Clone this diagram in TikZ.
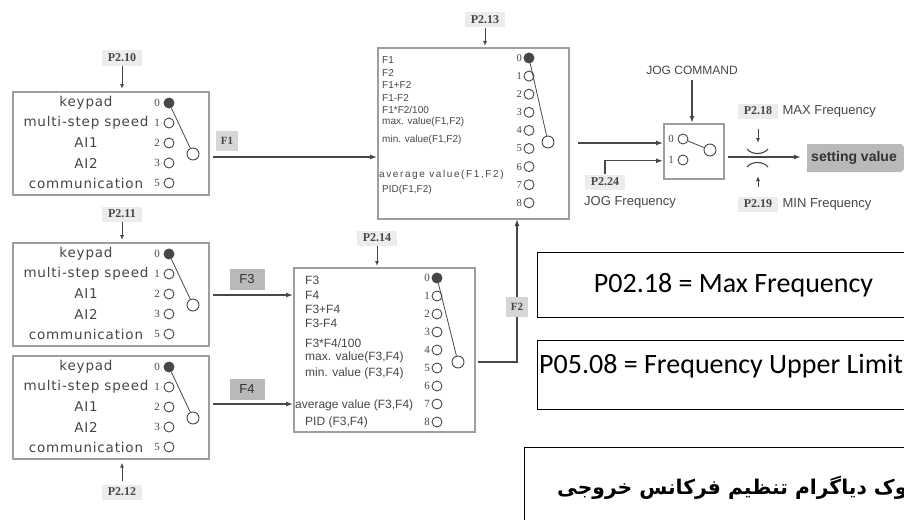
\documentclass[tikz,border=0pt]{standalone}
\usepackage{fontspec}
\setmainfont{Liberation Serif}
\setsansfont{Liberation Sans}
\newfontfamily\srcfont[LetterSpace=6]{DejaVu Sans}
\newfontfamily\notefont{Carlito}
\newfontfamily\farsifont[Script=Arabic]{DejaVu Sans}
\TeXXeTstate=1
\usetikzlibrary{arrows.meta, positioning, calc, shapes.symbols}

\definecolor{rim}{gray}{0.62}
\definecolor{ink}{gray}{0.28}

\tikzset{
  srcbox/.style={draw=rim, line width=1.6pt, inner sep=0pt},
  plabel/.style={fill=gray!15, text=ink, font=\bfseries\fontsize{12}{12}\selectfont,
                 inner xsep=6pt, inner ysep=2pt, minimum height=15pt},
  flight/.style={fill=gray!32, text=ink, font=\bfseries\fontsize{11}{11}\selectfont,
                 minimum width=22pt, minimum height=20pt, inner sep=0pt},
  fdark/.style={fill=gray!55, text=black!80, font=\sffamily\fontsize{13}{13}\selectfont,
                minimum width=35pt, minimum height=21pt, inner sep=0pt},
  contact/.style={circle, draw=ink, line width=0.9pt, minimum size=10pt, inner sep=0pt},
  swpivot/.style={circle, draw=ink, line width=0.9pt, minimum size=12pt, inner sep=0pt},
  swarm/.style={draw=ink, line width=0.8pt},
  sig/.style={-{Latex[length=7pt,width=5pt]}, line width=1.3pt, draw=ink},
  parrow/.style={-{Latex[length=5pt,width=4pt]}, line width=1pt, draw=ink},
  numtxt/.style={anchor=east, inner sep=0pt, text=ink, font=\fontsize{11}{11}\selectfont},
  srctxt/.style={inner sep=0pt, text=ink, font=\srcfont\fontsize{13.5}{13.5}\selectfont},
  uptxt/.style={anchor=west, inner sep=0pt, text=ink, font=\sffamily\fontsize{10}{10}\selectfont},
  dntxt/.style={anchor=west, inner sep=0pt, text=ink, font=\sffamily\fontsize{12}{12}\selectfont},
  jogtxt/.style={inner sep=0pt, text=ink, font=\sffamily\fontsize{13}{13}\selectfont},
  notebox/.style={draw, line width=1pt, inner sep=0pt},
}

\begin{document}
\begin{tikzpicture}[x=1pt, y=-1pt]
\useasboundingbox (0,0) rectangle (904,519);
\clip (0,0) rectangle (904,519);
\fill[white] (0,0) rectangle (904,519);

% source selectors
\foreach \ty/\nm in {91/A,242/B,355/C}{
  \node[srcbox, minimum width=196pt, minimum height=103pt, anchor=north west] (src\nm) at (12,\ty) {};
  \foreach \lab/\n [count=\i from 0] in {keypad/0,multi-step speed/1,AI1/2,AI2/3,communication/5}{
    \ifnum\n=0 \def\cf{ink}\else\def\cf{white}\fi
    \node[srctxt] (\nm t\n) at (86,{\ty+12+20*\i}) {\lab};
    \node[numtxt] (\nm n\n) at (160,{\ty+12+20*\i}) {\n};
    \node[contact, fill=\cf] (\nm\n) at (169,{\ty+12+20*\i}) {};
  }
  \node[swpivot] (\nm p) at (193,{\ty+63}) {};
  \draw[swarm] (\nm0) -- (\nm p);
}

\node[plabel] (p210) at (122,58) {P2.10};
\node[plabel] (p211) at (122,214) {P2.11};
\node[plabel] (p212) at (122,492) {P2.12};
\draw[parrow, shorten >=2pt] (p210.south) -- (srcA.north -| p210.south);
\draw[parrow, shorten >=2pt] (p211.south) -- (srcB.north -| p211.south);
\draw[parrow, shorten <=3pt, shorten >=3pt] (p212.north) -- (srcC.south -| p212.north);

% F1 / F2 combiner
\node[srcbox, minimum width=191pt, minimum height=171pt, anchor=north west] (sel13) at (377,47) {};
\foreach \lab/\y [count=\k] in {F1/60,F2/73,F1+F2/85,F1-F2/98,{F1*F2/100}/110,
    {max. value(F1,F2)}/122,{min. value(F1,F2)}/140,{PID(F1,F2)}/190}
  \node[uptxt] (up\k) at (382,\y) {\lab};
\node[uptxt, font=\sffamily\fontsize{10}{10}\selectfont\addfontfeature{LetterSpace=16}] (upavg) at (379,175) {average value(F1,F2)};
\foreach \n in {0,...,8}{
  \ifnum\n=0 \def\cf{ink}\else\def\cf{white}\fi
  \node[numtxt, font=\fontsize{10.5}{10.5}\selectfont] (un\n) at (522,{58+18.1*\n}) {\n};
  \node[contact, fill=\cf] (u\n) at (529,{58+18.1*\n}) {};
}
\node[swpivot] (up) at (548,142) {};
\draw[swarm] (u0) -- (up);
\node[plabel] (p213) at (485,20) {P2.13};
\draw[parrow, shorten >=1pt] (p213.south) -- (sel13.north -| p213.south);

% F3 / F4 combiner
\node[srcbox, minimum width=181pt, minimum height=164pt, anchor=north west] (sel14) at (293,267) {};
\foreach \lab/\y [count=\k] in {F3/280,F4/295,F3+F4/309,F3-F4/323,{F3*F4/100}/343,
    {max. value(F3,F4)}/357,{min. value (F3,F4)}/373,{PID (F3,F4)}/422}
  \node[dntxt] (dn\k) at (305,\y) {\lab};
\node[dntxt] (dnavg) at (295,405) {average value (F3,F4)};
\foreach \n in {0,...,8}{
  \ifnum\n=0 \def\cf{ink}\else\def\cf{white}\fi
  \node[numtxt] (dd\n) at (430,{278+18*\n}) {\n};
  \node[contact, fill=\cf] (d\n) at (437,{278+18*\n}) {};
}
\node[swpivot] (dp) at (458,362) {};
\draw[swarm] (d0) -- (dp);
\node[plabel] (p214) at (377,238) {P2.14};
\draw[parrow, shorten >=1pt] (p214.south) -- (sel14.north -| p214.south);

% channels between blocks
\coordinate (aout) at (213,157);
\coordinate (bout) at (213,295);
\coordinate (cout) at (213,404);
\draw[sig] (aout) -- (aout -| sel13.west);
\draw[sig] (bout) -- (bout -| sel14.west);
\draw[sig] (cout) -- (cout -| sel14.west);
\node[flight] (f1) at (227,141) {F1};
\node[fdark] (f3) at (247,279) {F3};
\node[fdark] (f4) at (247,389) {F4};

\coordinate (f2s) at (478,362);
\coordinate (f2in) at (517,219);
\draw[sig] (f2s) -| (f2in);
\node[flight] (f2) at (517,307) {F2};

% jog switch and limiter
\node[srcbox, minimum width=60pt, minimum height=55pt, anchor=north west] (jog) at (663,123) {};
\node[numtxt] (jn0) at (674,139) {0};
\node[numtxt] (jn1) at (674,160) {1};
\node[contact] (j0) at (683,139) {};
\node[contact] (j1) at (683,160) {};
\node[swpivot] (jp) at (710,150) {};
\draw[swarm] (j0) -- (jp);

\node[jogtxt, font=\sffamily\fontsize{12}{12}\selectfont] (jogcmd) at (692,70) {JOG COMMAND};
\draw[sig, shorten <=6pt] (jogcmd.south) -- (jog.north -| jogcmd.south);

\coordinate (mout) at (578,143);
\draw[sig] (mout) -- (mout -| jog.west);
\node[plabel] (p224) at (605,182) {P2.24};
\node[jogtxt, anchor=west] (jogf) at (584,202) {JOG Frequency};
\draw[sig] (p224.north) |- ([yshift=-9.5pt]jog.west);

\node[signal, signal to=east, fill=gray!55, minimum width=108pt, minimum height=28pt,
      inner sep=0pt, font=\sffamily\bfseries\fontsize{14}{14}\selectfont, text=black!80] (setv) at (854,158) {setting value};
\coordinate (jout) at (728,157);
\draw[sig, shorten >=6pt] (jout) -- (jout -| setv.west);

\draw[swarm, line width=1.1pt] (747,149) .. controls (752,155) and (763,155) .. (768,149);
\draw[swarm, line width=1.1pt] (747,167) .. controls (752,161) and (763,161) .. (768,167);

\node[plabel] (p218) at (758,111) {P2.18};
\node[jogtxt, right=4pt of p218] (maxf) {MAX Frequency};
\node[plabel] (p219) at (758,204) {P2.19};
\node[jogtxt, right=4pt of p219] (minf) {MIN Frequency};
\coordinate (limtop) at (758,143);
\coordinate (limbot) at (758,176);
\draw[parrow, shorten <=10pt] (p218.south) -- (limtop);
\draw[parrow, shorten <=9pt] (p219.north) -- (limbot);

% notes
\node[notebox, minimum width=392pt, minimum height=65pt, anchor=north west,
      font=\notefont\fontsize{28}{28}\selectfont] (note1) at (537,252) {P02.18 = Max Frequency};
\node[notebox, minimum width=392pt, minimum height=69pt, anchor=north west] (note2) at (537,340) {};
\node[anchor=west, inner sep=0pt, font=\notefont\fontsize{28}{28}\selectfont] (note2t) at (539,366) {P05.08 = Frequency Upper Limit};
\node[notebox, minimum width=400pt, minimum height=100pt, anchor=north west] (note3) at (524,447) {};
\node[anchor=west, inner sep=0pt, font=\farsifont\bfseries\fontsize{20.3}{20.3}\selectfont] (note3t) at (557,488) {\beginR بلوک دیاگرام تنظیم فرکانس خروجی\endR};
\end{tikzpicture}
\end{document}
